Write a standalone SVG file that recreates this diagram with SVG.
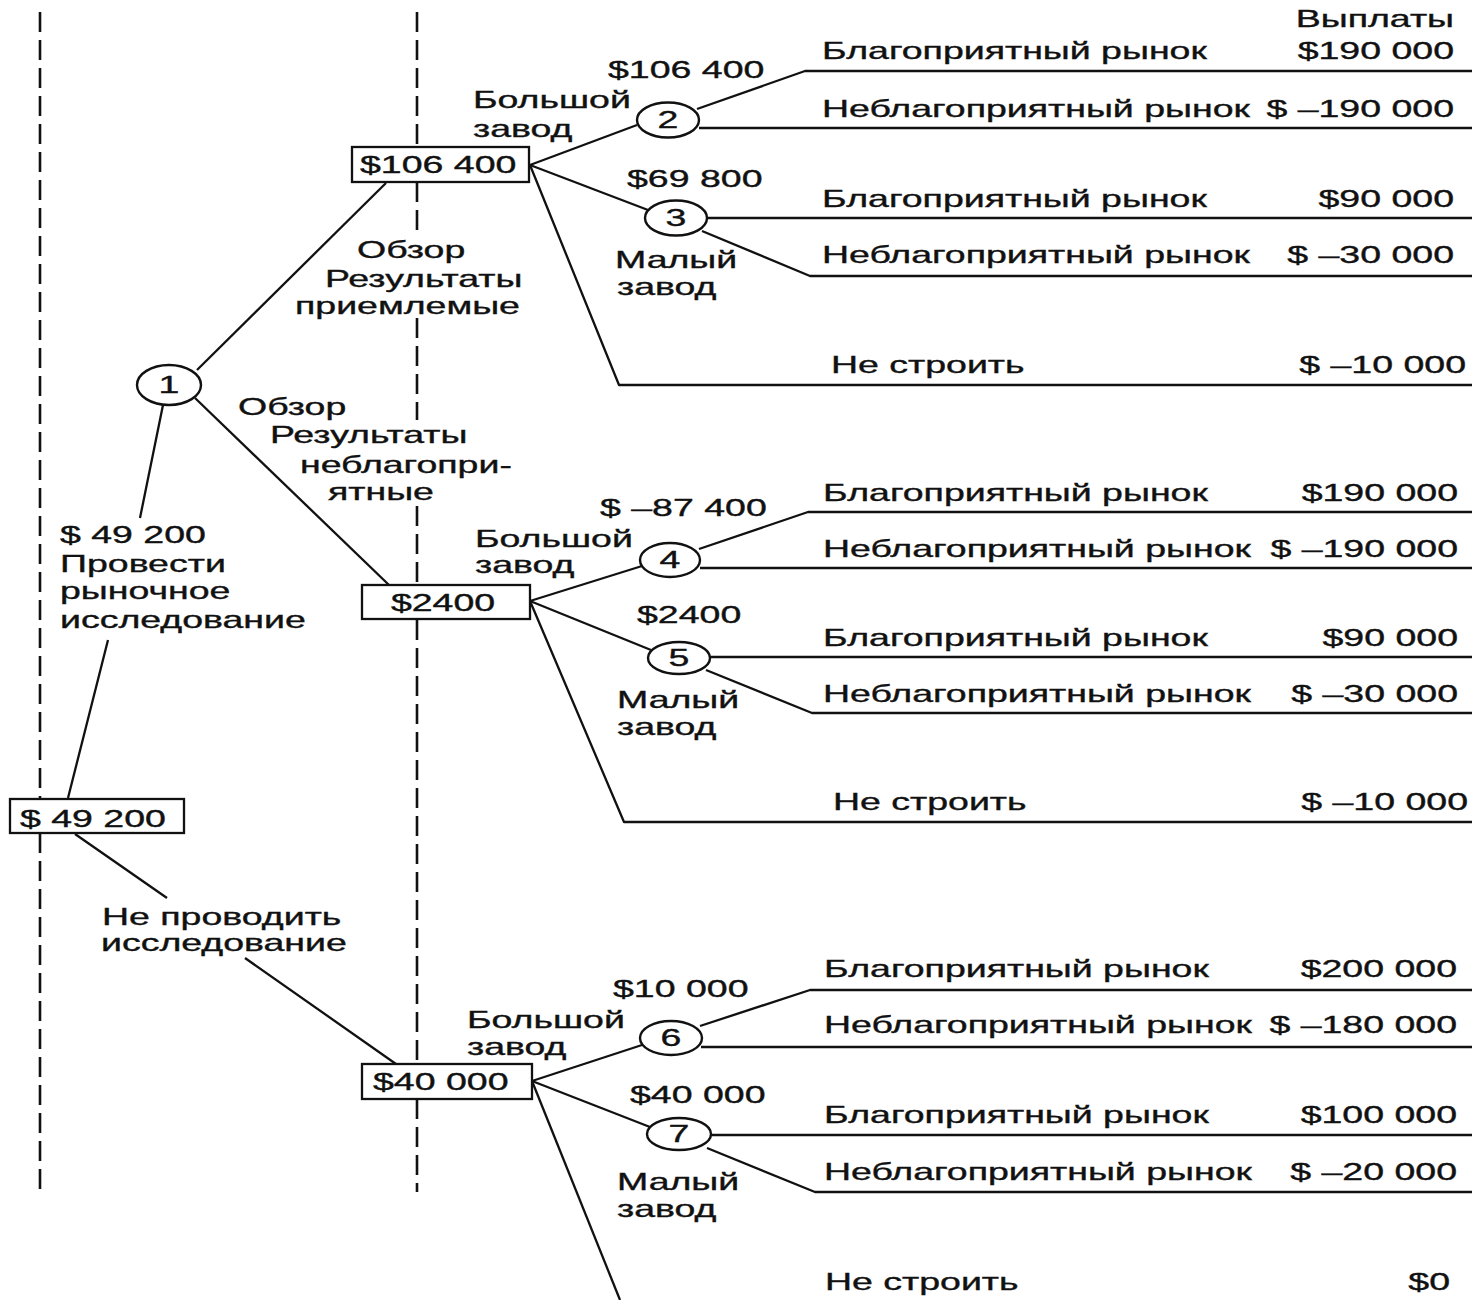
<svg xmlns="http://www.w3.org/2000/svg" width="1472" height="1300" viewBox="0 0 1472 1300">
<style>
text{font-family:"Liberation Sans",Arial,Helvetica,sans-serif;font-size:23px;fill:#111;stroke:#111;stroke-width:0.35}
.e{text-anchor:end}
.m{text-anchor:middle}
.ln{fill:none;stroke:#111;stroke-width:2.3;stroke-linejoin:round}
.dash{fill:none;stroke:#111;stroke-width:2.6;stroke-dasharray:20 8}
.box{fill:#fff;stroke:#111;stroke-width:2.3}
.circ{fill:#fff;stroke:#111;stroke-width:2.4}
</style>
<rect x="0" y="0" width="1472" height="1300" fill="#fff"/>
<g id="stage-lines">
<path class="dash" d="M40 12 V798 M40 833 V1192"/>
<path class="dash" d="M417 12 V147 M417 182 V236 M417 318 V420 M417 506 V585 M417 620 V1064 M417 1099 V1192"/>
</g>
<g id="connectors">
<path class="ln" d="M68 798 L108 640 M140 518 L163 405"/>
<path class="ln" d="M197 370 L386 183"/>
<path class="ln" d="M195 398 L389 585"/>
<path class="ln" d="M75 834 L167 898 M245 958 L396 1064"/>
<path class="ln" d="M530 165 L637 125"/>
<path class="ln" d="M530 165 L648 210"/>
<path class="ln" d="M530 165 L619 385 L1472 385"/>
<path class="ln" d="M697 109 L805 71 L1472 71"/>
<path class="ln" d="M699 128 L1472 128"/>
<path class="ln" d="M707 218 L1472 218"/>
<path class="ln" d="M702 231 L810 276 L1472 276"/>
<path class="ln" d="M530 601 L642 566"/>
<path class="ln" d="M530 601 L651 650"/>
<path class="ln" d="M530 601 L624 822 L1472 822"/>
<path class="ln" d="M699 549 L808 512 L1472 512"/>
<path class="ln" d="M700 568 L1472 568"/>
<path class="ln" d="M710 657 L1472 657"/>
<path class="ln" d="M706 670 L812 713 L1472 713"/>
<path class="ln" d="M532 1081 L642 1045"/>
<path class="ln" d="M532 1081 L650 1127"/>
<path class="ln" d="M532 1081 L620 1300"/>
<path class="ln" d="M700 1026 L810 990 L1472 990"/>
<path class="ln" d="M701 1047 L1472 1047"/>
<path class="ln" d="M711 1135 L1472 1135"/>
<path class="ln" d="M707 1148 L815 1192 L1472 1192"/>
</g>
<g id="edge-labels">
<text transform="translate(60 543) scale(1.63 1)">$ 49 200</text>
<text transform="translate(60 572) scale(1.63 1)">Провести</text>
<text transform="translate(60 599) scale(1.63 1)">рыночное</text>
<text transform="translate(60 628) scale(1.63 1)">исследование</text>
<text transform="translate(102 925) scale(1.63 1)">Не проводить</text>
<text transform="translate(101 951) scale(1.63 1)">исследование</text>
<text transform="translate(357 258) scale(1.63 1)">Обзор</text>
<text transform="translate(325 287) scale(1.63 1)">Результаты</text>
<text transform="translate(295 314) scale(1.63 1)">приемлемые</text>
<text transform="translate(238 415) scale(1.63 1)">Обзор</text>
<text transform="translate(270 443) scale(1.63 1)">Результаты</text>
<text transform="translate(300 473) scale(1.63 1)">неблагопри-</text>
<text transform="translate(328 500) scale(1.63 1)">ятные</text>
<text transform="translate(473 108) scale(1.63 1)">Большой</text>
<text transform="translate(473 137) scale(1.63 1)">завод</text>
<text transform="translate(608 78) scale(1.63 1)">$106 400</text>
<text transform="translate(627 187) scale(1.63 1)">$69 800</text>
<text transform="translate(615 268) scale(1.63 1)">Малый</text>
<text transform="translate(617 295) scale(1.63 1)">завод</text>
<text transform="translate(475 547) scale(1.63 1)">Большой</text>
<text transform="translate(475 573) scale(1.63 1)">завод</text>
<text transform="translate(600 516) scale(1.63 1)">$ –87 400</text>
<text transform="translate(637 623) scale(1.63 1)">$2400</text>
<text transform="translate(617 708) scale(1.63 1)">Малый</text>
<text transform="translate(617 735) scale(1.63 1)">завод</text>
<text transform="translate(467 1028) scale(1.63 1)">Большой</text>
<text transform="translate(467 1055) scale(1.63 1)">завод</text>
<text transform="translate(613 997) scale(1.63 1)">$10 000</text>
<text transform="translate(630 1103) scale(1.63 1)">$40 000</text>
<text transform="translate(617 1190) scale(1.63 1)">Малый</text>
<text transform="translate(617 1217) scale(1.63 1)">завод</text>
</g>
<g id="n-root">
<rect class="box" x="10" y="799" width="174" height="34"/>
<text transform="translate(20 827) scale(1.63 1)">$ 49 200</text>
</g>
<g id="n1">
<ellipse class="circ" cx="169" cy="385" rx="32" ry="20"/>
<text class="m" transform="translate(169 393) scale(1.63 1)">1</text>
</g>
<g id="d-favorable">
<rect class="box" x="352" y="147" width="177" height="35"/>
<text transform="translate(360 173) scale(1.63 1)">$106 400</text>
</g>
<g id="n2">
<ellipse class="circ" cx="668" cy="120" rx="31" ry="17.5"/>
<text class="m" transform="translate(668 128) scale(1.63 1)">2</text>
</g>
<g id="n3">
<ellipse class="circ" cx="676" cy="218" rx="31" ry="17.5"/>
<text class="m" transform="translate(676 226) scale(1.63 1)">3</text>
</g>
<g id="d-unfavorable">
<rect class="box" x="362" y="585" width="168" height="34"/>
<text class="m" transform="translate(443 611) scale(1.63 1)">$2400</text>
</g>
<g id="n4">
<ellipse class="circ" cx="670" cy="560" rx="30" ry="17"/>
<text class="m" transform="translate(670 568) scale(1.63 1)">4</text>
</g>
<g id="n5">
<ellipse class="circ" cx="679" cy="658" rx="31" ry="16"/>
<text class="m" transform="translate(679 666) scale(1.63 1)">5</text>
</g>
<g id="d-nosurvey">
<rect class="box" x="362" y="1064" width="170" height="35"/>
<text transform="translate(373 1090) scale(1.63 1)">$40 000</text>
</g>
<g id="n6">
<ellipse class="circ" cx="671" cy="1038" rx="31" ry="17"/>
<text class="m" transform="translate(671 1046) scale(1.63 1)">6</text>
</g>
<g id="n7">
<ellipse class="circ" cx="679" cy="1134" rx="32" ry="16"/>
<text class="m" transform="translate(679 1142) scale(1.63 1)">7</text>
</g>
<g id="payoffs">
<text class="e" transform="translate(1454 27) scale(1.63 1)">Выплаты</text>
<text transform="translate(822 59) scale(1.63 1)">Благоприятный рынок</text>
<text class="e" transform="translate(1454 59) scale(1.63 1)">$190 000</text>
<text transform="translate(822 117) scale(1.63 1)">Неблагоприятный рынок</text>
<text class="e" transform="translate(1454 117) scale(1.63 1)">$ –190 000</text>
<text transform="translate(822 207) scale(1.63 1)">Благоприятный рынок</text>
<text class="e" transform="translate(1454 207) scale(1.63 1)">$90 000</text>
<text transform="translate(822 263) scale(1.63 1)">Неблагоприятный рынок</text>
<text class="e" transform="translate(1454 263) scale(1.63 1)">$ –30 000</text>
<text transform="translate(831 373) scale(1.63 1)">Не строить</text>
<text class="e" transform="translate(1466 373) scale(1.63 1)">$ –10 000</text>
<text transform="translate(823 501) scale(1.63 1)">Благоприятный рынок</text>
<text class="e" transform="translate(1458 501) scale(1.63 1)">$190 000</text>
<text transform="translate(823 557) scale(1.63 1)">Неблагоприятный рынок</text>
<text class="e" transform="translate(1458 557) scale(1.63 1)">$ –190 000</text>
<text transform="translate(823 646) scale(1.63 1)">Благоприятный рынок</text>
<text class="e" transform="translate(1458 646) scale(1.63 1)">$90 000</text>
<text transform="translate(823 702) scale(1.63 1)">Неблагоприятный рынок</text>
<text class="e" transform="translate(1458 702) scale(1.63 1)">$ –30 000</text>
<text transform="translate(833 810) scale(1.63 1)">Не строить</text>
<text class="e" transform="translate(1468 810) scale(1.63 1)">$ –10 000</text>
<text transform="translate(824 977) scale(1.63 1)">Благоприятный рынок</text>
<text class="e" transform="translate(1457 977) scale(1.63 1)">$200 000</text>
<text transform="translate(824 1033) scale(1.63 1)">Неблагоприятный рынок</text>
<text class="e" transform="translate(1457 1033) scale(1.63 1)">$ –180 000</text>
<text transform="translate(824 1123) scale(1.63 1)">Благоприятный рынок</text>
<text class="e" transform="translate(1457 1123) scale(1.63 1)">$100 000</text>
<text transform="translate(824 1180) scale(1.63 1)">Неблагоприятный рынок</text>
<text class="e" transform="translate(1457 1180) scale(1.63 1)">$ –20 000</text>
<text transform="translate(825 1290) scale(1.63 1)">Не строить</text>
<text class="e" transform="translate(1450 1290) scale(1.63 1)">$0</text>
</g>
</svg>
